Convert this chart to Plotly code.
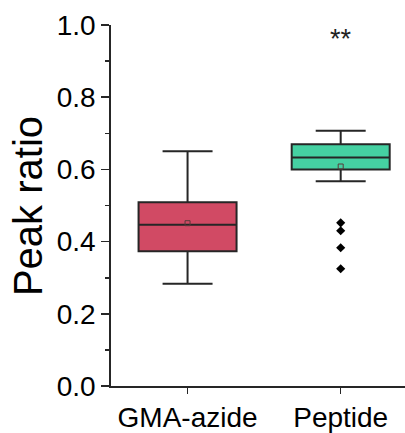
import plotly.graph_objects as go

categories = ["GMA-azide", "Peptide"]
q1 = [0.373, 0.600]
median = [0.447, 0.633]
q3 = [0.509, 0.670]
lower = [0.283, 0.567]
upper = [0.650, 0.707]
means = [0.451, 0.608]
outliers_peptide = [0.452, 0.430, 0.383, 0.325]
fill_colors = ["#D14A64", "#45D1A2"]
y_ticks = [0.0, 0.2, 0.4, 0.6, 0.8, 1.0]

FONT = "Liberation Sans, Arial, sans-serif"
LINE = "#262626"

fig = go.Figure()
for i, cat in enumerate(categories):
    fig.add_trace(go.Box(
        x=[i], q1=[q1[i]], median=[median[i]], q3=[q3[i]],
        lowerfence=[lower[i]], upperfence=[upper[i]],
        width=0.64, whiskerwidth=0.51,
        fillcolor=fill_colors[i],
        line=dict(color=LINE, width=2),
        boxpoints=False, showlegend=False, hoverinfo="skip",
    ))

fig.add_trace(go.Scatter(
    x=[0, 1], y=means, mode="markers",
    marker=dict(symbol="square-open", size=5, color="#5a3a3a", line=dict(width=1)),
    showlegend=False, hoverinfo="skip",
))
fig.add_trace(go.Scatter(
    x=[1] * len(outliers_peptide), y=outliers_peptide, mode="markers",
    marker=dict(symbol="diamond", size=7, color="black"),
    showlegend=False, hoverinfo="skip",
))

fig.add_annotation(x=1, y=0.962, text="**", showarrow=False,
                   font=dict(family=FONT, size=27, color="#222"),
                   xanchor="center", yanchor="middle")
fig.add_annotation(xref="paper", yref="paper", x=-0.284, y=0.497,
                   text="Peak ratio", textangle=-90, showarrow=False,
                   font=dict(family=FONT, size=40, color="black"),
                   xanchor="center", yanchor="middle")

fig.update_layout(
    width=405, height=433,
    margin=dict(l=111, r=0, t=25, b=40),
    paper_bgcolor="white", plot_bgcolor="white",
    font=dict(family=FONT, color="black"),
    xaxis=dict(
        range=[-0.5, 1.42], tickvals=[0, 1], ticktext=categories,
        ticks="outside", ticklen=6, tickwidth=1.6, tickcolor=LINE,
        showline=True, linecolor=LINE, linewidth=1.8,
        showgrid=False, zeroline=False,
        tickfont=dict(family=FONT, size=28, color="black"),
    ),
    yaxis=dict(
        range=[0, 1], tickvals=y_ticks, tickformat=".1f",
        ticks="outside", ticklen=8, tickwidth=1.6, tickcolor=LINE,
        minor=dict(dtick=0.1, ticks="outside", ticklen=4, tickwidth=1.6, tickcolor=LINE),
        showline=True, linecolor=LINE, linewidth=1.8,
        showgrid=False, zeroline=False,
        tickfont=dict(family=FONT, size=28, color="black"),
    ),
)

fig.write_html(
    "out.html",
    config={"displayModeBar": False, "staticPlot": True},
    post_script="document.body.style.margin='0px';document.body.style.overflow='hidden';",
)
